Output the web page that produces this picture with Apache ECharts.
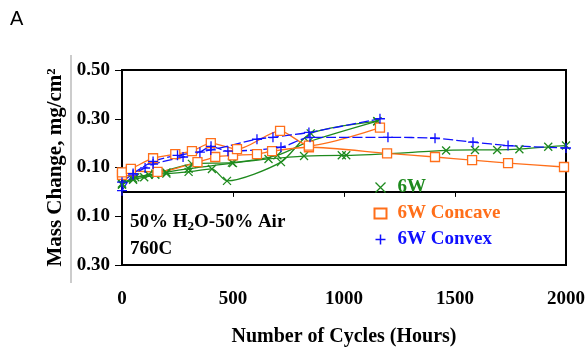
<!DOCTYPE html>
<html><head><meta charset="utf-8">
<script src="https://cdn.jsdelivr.net/npm/echarts@6/dist/echarts.min.js"></script>
<style>html,body{margin:0;padding:0;background:#fff}#c{width:588px;height:352px}</style>
</head><body><div id="c"></div>
<script>
// ---- data (x = cycles/hours, y = mass change mg/cm2) ----
const xTickLabels = ['0', '500', '1000', '1500', '2000'];
const yTickLabels = ['0.30', '0.10', '0.10', '0.30', '0.50']; // as printed (bottom to top)

const w6_a = [[0,0.03],[50,0.05],[100,0.06],[150,0.07],[200,0.08],[300,0.095],[500,0.118],[660,0.135],[820,0.147],[990,0.15],[1010,0.15],[1460,0.17],[1590,0.172],[1690,0.172],[1790,0.175],[1920,0.185],[2000,0.19]];
const w6_b = [[0,0.03],[50,0.055],[120,0.07],[200,0.075],[300,0.082],[405,0.094],[473,0.045],[716,0.122],[850,0.24],[1150,0.29]];
const w6_c = [[0,0.035],[60,0.06],[150,0.075],[315,0.115],[495,0.12],[700,0.15],[840,0.205],[1150,0.29]];

const cc_a = [[0,0.07],[40,0.085],[160,0.082],[340,0.122],[420,0.143],[500,0.15],[608,0.155],[676,0.167],[842,0.183],[1194,0.158],[1410,0.143],[1577,0.13],[1739,0.118],[1991,0.102]];
const cc_b = [[0,0.08],[40,0.094],[140,0.138],[240,0.155],[315,0.167],[400,0.2],[518,0.175],[712,0.25],[842,0.19],[1162,0.264]];

const cv_a = [[0,0.005],[50,0.07],[104,0.098],[140,0.114],[275,0.143],[351,0.163],[401,0.187],[477,0.167],[716,0.183],[847,0.224],[1198,0.224],[1410,0.22],[1581,0.204],[1739,0.19],[2000,0.18]];
const cv_b = [[0,0.04],[50,0.075],[140,0.125],[250,0.15],[400,0.172],[608,0.216],[680,0.224],[842,0.244],[1162,0.30]];

const GREEN = '#1e8a1e', ORANGE = '#ff6f1a', BLUE = '#1010ff';
const SYM_X = 'path://M0,0L10,10M10,0L0,10';
const SYM_PLUS = 'path://M5,0L5,10M0,5L10,5';
const SERIF = '"Liberation Serif","Times New Roman",serif';

function mk(name, data, color, symbol, size, dashed, fillCol) {
  return {
    name: name, type: 'line', data: data, smooth: 0.25,
    symbol: symbol, symbolSize: size, showSymbol: true,
    lineStyle: { color: color, width: 1.3, type: dashed ? [10, 3] : 'solid' },
    itemStyle: { color: fillCol, borderColor: color, borderWidth: 1.3 },
    emphasis: { disabled: true }, z: 3
  };
}

const chart = echarts.init(document.getElementById('c'), null, { renderer: 'canvas' });
chart.setOption({
  animation: false,
  backgroundColor: '#fff',
  grid: { left: 122, right: 22, top: 70, bottom: 85, show: true, borderColor: '#000', borderWidth: 2 },
  xAxis: {
    type: 'value', min: 0, max: 2000, interval: 500,
    axisLine: { show: true, lineStyle: { color: '#000', width: 2 } },
    axisTick: { show: true, length: 5, inside: false, lineStyle: { color: '#000' } },
    splitLine: { show: false },
    axisLabel: { margin: 25, color: '#000', fontFamily: SERIF, fontWeight: 'bold', fontSize: 19,
      formatter: function (v) { return xTickLabels[Math.round(v / 500)]; } },
    name: 'Number of Cycles (Hours)', nameLocation: 'middle', nameGap: 62,
    nameTextStyle: { color: '#000', fontFamily: SERIF, fontWeight: 'bold', fontSize: 20 }
  },
  yAxis: {
    type: 'value', min: -0.3, max: 0.5, interval: 0.2,
    axisLine: { show: true, lineStyle: { color: '#000', width: 2 } },
    axisTick: { show: true, length: 7, inside: false, lineStyle: { color: '#000' } },
    splitLine: { show: false },
    axisLabel: { margin: 12, color: '#000', fontFamily: SERIF, fontWeight: 'bold', fontSize: 19,
      formatter: function (v) { return yTickLabels[Math.round((v + 0.3) / 0.2)]; } },
    name: 'Mass Change, mg/cm²', nameLocation: 'middle', nameGap: 56, nameRotate: 90,
    nameTextStyle: { color: '#000', fontFamily: SERIF, fontWeight: 'bold', fontSize: 21 }
  },
  legend: {
    orient: 'vertical', left: 368, top: 173, itemGap: 7, itemWidth: 12, itemHeight: 10,
    selectedMode: false,
    textStyle: { fontFamily: SERIF, fontWeight: 'bold', fontSize: 19, padding: [0, 0, 0, 6] },
    data: [
      { name: '6W', icon: SYM_X, itemStyle: { color: 'none', borderColor: GREEN, borderWidth: 1.3 }, textStyle: { color: GREEN } },
      { name: '6W Concave', icon: 'rect', itemStyle: { color: '#fff', borderColor: ORANGE, borderWidth: 2 }, textStyle: { color: ORANGE } },
      { name: '6W Convex', icon: SYM_PLUS, itemStyle: { color: 'none', borderColor: BLUE, borderWidth: 1.5 }, textStyle: { color: BLUE } }
    ]
  },
  graphic: [
    { type: 'text', left: 10, top: 9, style: { text: 'A', fontFamily: '"Liberation Sans",Arial,sans-serif', fontSize: 20, fill: '#000' } },
    { type: 'line', shape: { x1: 71, y1: 55, x2: 71, y2: 283 }, style: { stroke: '#999', lineWidth: 1 } },
    { type: 'text', left: 130, top: 213, style: {
        text: '{b|50% H}{s|2}{b|O-50% Air}', fill: '#000',
        rich: { b: { fontFamily: SERIF, fontWeight: 'bold', fontSize: 19, fill: '#000' },
                s: { fontFamily: SERIF, fontWeight: 'bold', fontSize: 13, fill: '#000', padding: [9, 0, 0, 0] } } } },
    { type: 'text', left: 130, top: 240, style: { text: '760C', fontFamily: SERIF, fontWeight: 'bold', fontSize: 19, fill: '#000' } }
  ],
  series: [
    mk('6W', w6_a, GREEN, SYM_X, 8, false, 'none'),
    mk('6W', w6_b, GREEN, SYM_X, 8, false, 'none'),
    mk('6W', w6_c, GREEN, SYM_X, 8, false, 'none'),
    mk('6W Concave', cc_a, ORANGE, 'rect', 9, false, '#fff'),
    mk('6W Concave', cc_b, ORANGE, 'rect', 9, false, '#fff'),
    mk('6W Convex', cv_a, BLUE, SYM_PLUS, 10, true, 'none'),
    mk('6W Convex', cv_b, BLUE, SYM_PLUS, 10, true, 'none')
  ]
});
</script></body></html>
